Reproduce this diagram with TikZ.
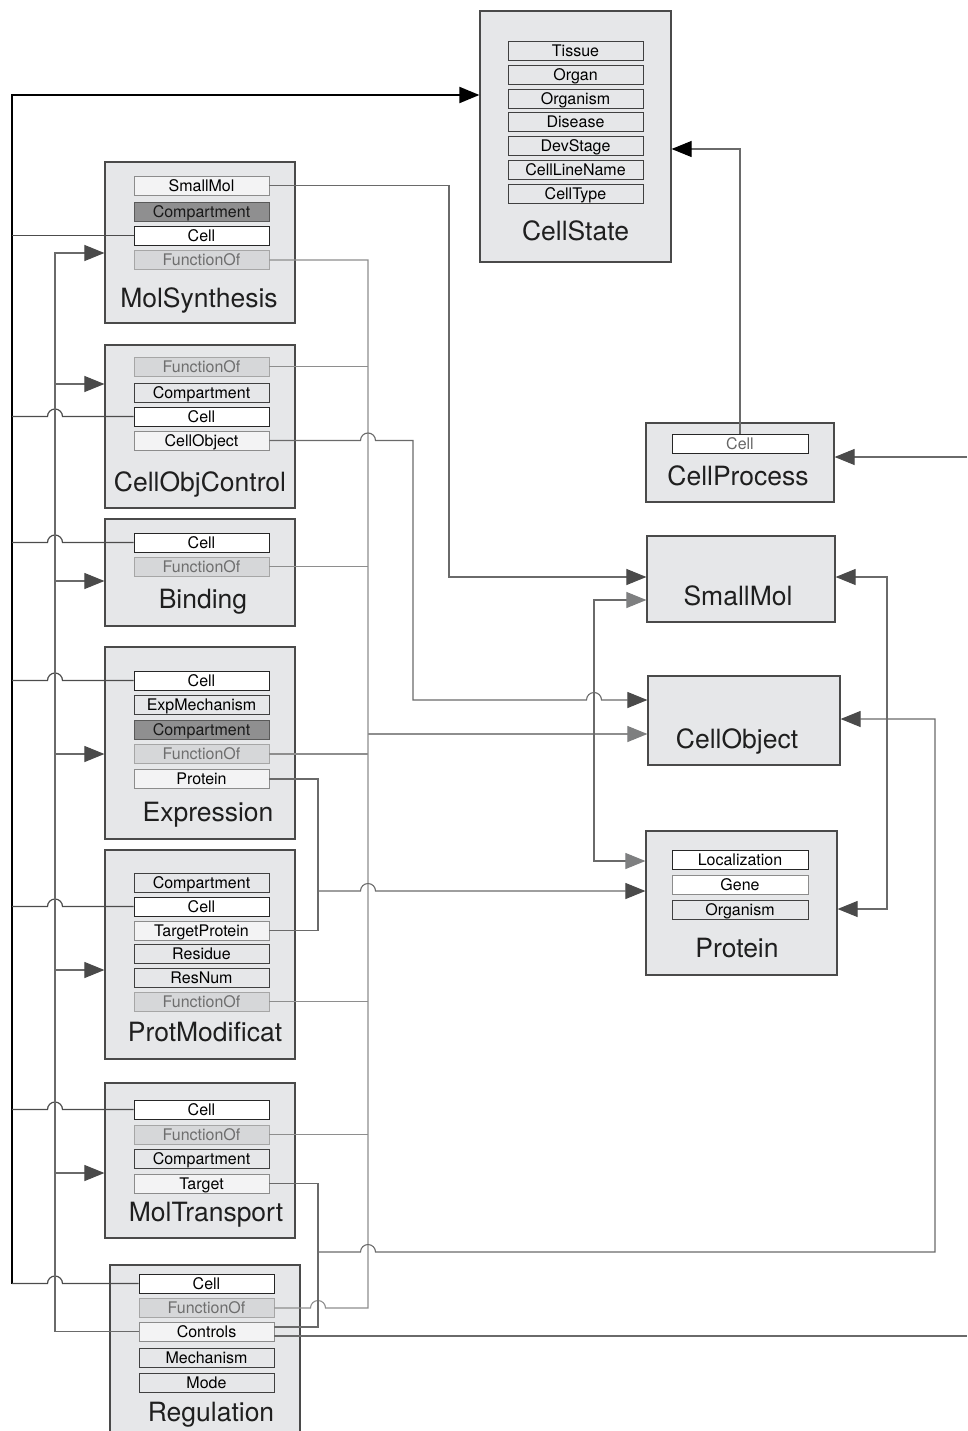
\documentclass[tikz,border=0pt]{standalone}
\usepackage{fontspec}
\setmainfont{TeX Gyre Heros}
\usetikzlibrary{arrows.meta}

\definecolor{boxfill}{HTML}{E6E7E9}
\definecolor{boxline}{HTML}{4A4A4A}
\definecolor{attrlight}{HTML}{F3F3F4}
\definecolor{attrdark}{HTML}{8F8F90}
\definecolor{fnfill}{HTML}{D6D7D9}
\definecolor{fntext}{HTML}{6E6E6E}
\definecolor{wiregray}{HTML}{6A6A6A}
\definecolor{fngray}{HTML}{8E8E8E}
\definecolor{tipdark}{HTML}{4A4A4A}
\definecolor{tiplight}{HTML}{7E7F80}

\tikzset{
  entity/.style={draw=boxline, fill=boxfill, line width=1.2pt, inner sep=0pt},
  etitle/.style={anchor=base, inner sep=0pt, font=\fontsize{26.5}{28}\selectfont, text=black!88},
  attr/.style={line width=0.9pt, minimum width=135pt, minimum height=19pt, inner sep=0pt,
    text height=11.5pt, text depth=0.4pt, font=\fontsize{16}{17}\selectfont},
  cellattr/.style={attr, fill=white, draw=black!85},
  lightattr/.style={attr, fill=attrlight, draw=black!45},
  darkattr/.style={attr, fill=attrdark, draw=black!65, text=black!90},
  fnattr/.style={attr, fill=fnfill, draw=black!35, text=fntext},
  plainattr/.style={attr, fill=boxfill, draw=black!75},
  wire/.style={draw=wiregray, line width=1.1pt},
  fnwire/.style={draw=fngray, line width=1.1pt},
  cellwire/.style={draw=black!70, line width=1.2pt},
  trunk/.style={draw=black, line width=2pt},
  darkhead/.tip={Triangle[length=20pt,width=16pt,color=tipdark]},
  lighthead/.tip={Triangle[length=20pt,width=16pt,color=tiplight]},
  blackhead/.tip={Triangle[length=20pt,width=16pt,color=black]}
}

\begin{document}
\begin{tikzpicture}[x=1pt,y=-1pt]
\useasboundingbox (0,0) rectangle (967,1431);
\clip (0,0) rectangle (967,1431);

% --- right column
\node[entity, minimum width=191, minimum height=251] (cstate) at (575.5,136.5) {};
\foreach \t [count=\i] in {Tissue,Organ,Organism,Disease,DevStage,CellLineName,CellType}
  \node[plainattr] (cstate-\i) at (575.5,{51+23.75*(\i-1)}) {\t};
\node[etitle] (cstate-t) at (575.5,240.5) {CellState};

\node[entity, minimum width=188, minimum height=79] (cproc) at (740,462.5) {};
\node[cellattr, text=black!60, minimum width=136] (cproc-cell) at (740,443.5) {Cell};
\node[etitle] (cproc-t) at (738,485) {CellProcess};

\node[entity, minimum width=188, minimum height=86] (smol) at (741,579) {};
\node[etitle] (smol-t) at (738,605) {SmallMol};

\node[entity, minimum width=192, minimum height=89] (cobj) at (744,720.5) {};
\node[etitle] (cobj-t) at (737,748) {CellObject};

\node[entity, minimum width=191, minimum height=144] (prot) at (741.5,903) {};
\node[cellattr, minimum width=136] (prot-loc) at (740,859.5) {Localization};
\node[lightattr, fill=white, minimum width=136] (prot-gene) at (740,884.5) {Gene};
\node[plainattr, minimum width=136] (prot-org) at (740,909.5) {Organism};
\node[etitle] (prot-t) at (737,957) {Protein};

% --- left column
\node[entity, minimum width=190, minimum height=161] (msyn) at (200,242.5) {};
\node[lightattr] (msyn-smol) at (201.5,185.5) {SmallMol};
\node[darkattr] (msyn-comp) at (201.5,211.5) {Compartment};
\node[cellattr] (msyn-cell) at (201.5,235.5) {Cell};
\node[fnattr] (msyn-fn) at (201.5,260) {FunctionOf};
\node[etitle] (msyn-t) at (199,307) {MolSynthesis};

\node[entity, minimum width=190, minimum height=163] (cocl) at (200,426.5) {};
\node[fnattr] (cocl-fn) at (201.5,366.5) {FunctionOf};
\node[plainattr] (cocl-comp) at (201.5,392.5) {Compartment};
\node[cellattr] (cocl-cell) at (201.5,416.5) {Cell};
\node[lightattr] (cocl-cobj) at (201.5,440.5) {CellObject};
\node[etitle] (cocl-t) at (200,491) {CellObjControl};

\node[entity, minimum width=190, minimum height=107] (bind) at (200,572.5) {};
\node[cellattr] (bind-cell) at (201.5,542.5) {Cell};
\node[fnattr] (bind-fn) at (201.5,566.5) {FunctionOf};
\node[etitle] (bind-t) at (203,608) {Binding};

\node[entity, minimum width=190, minimum height=192] (expr) at (200,743) {};
\node[cellattr] (expr-cell) at (201.5,680.5) {Cell};
\node[plainattr] (expr-mech) at (201.5,704.5) {ExpMechanism};
\node[darkattr] (expr-comp) at (201.5,729.5) {Compartment};
\node[fnattr] (expr-fn) at (201.5,754) {FunctionOf};
\node[lightattr] (expr-prot) at (201.5,779) {Protein};
\node[etitle] (expr-t) at (208,821) {Expression};

\node[entity, minimum width=190, minimum height=209] (pmod) at (200,954.5) {};
\node[plainattr] (pmod-comp) at (201.5,882.5) {Compartment};
\node[cellattr] (pmod-cell) at (201.5,906.5) {Cell};
\node[lightattr] (pmod-tprot) at (201.5,930.5) {TargetProtein};
\node[plainattr] (pmod-res) at (201.5,953.5) {Residue};
\node[plainattr] (pmod-rnum) at (201.5,977.5) {ResNum};
\node[fnattr] (pmod-fn) at (201.5,1001.5) {FunctionOf};
\node[etitle] (pmod-t) at (205,1041) {ProtModificat};

\node[entity, minimum width=190, minimum height=155] (mtra) at (200,1160.5) {};
\node[cellattr] (mtra-cell) at (201.5,1109.5) {Cell};
\node[fnattr] (mtra-fn) at (201.5,1134.5) {FunctionOf};
\node[plainattr] (mtra-comp) at (201.5,1158.5) {Compartment};
\node[lightattr] (mtra-targ) at (201.5,1183.5) {Target};
\node[etitle] (mtra-t) at (206,1221) {MolTransport};

\node[entity, minimum width=190, minimum height=195] (regu) at (205,1362.5) {};
\node[cellattr] (regu-cell) at (206.5,1283.5) {Cell};
\node[fnattr] (regu-fn) at (206.5,1308) {FunctionOf};
\node[lightattr] (regu-ctrl) at (206.5,1331.5) {Controls};
\node[plainattr] (regu-mech) at (206.5,1357.5) {Mechanism};
\node[plainattr] (regu-mode) at (206.5,1382.5) {Mode};
\node[etitle] (regu-t) at (211,1421) {Regulation};

\coordinate (rim1) at (967,457);
\coordinate (rim2) at (967,1336);

% --- Cell links into CellState
\draw[trunk, -blackhead] (12,1283.5) -- (12,95) -- (cstate.west |- 12,95);
\draw[cellwire] (msyn-cell.west) -- (msyn-cell.west -| 12,0);
\foreach \c in {cocl-cell,bind-cell,expr-cell,pmod-cell,mtra-cell,regu-cell}
  \draw[cellwire] (\c.west) -- (\c.west -| 62.5,0) arc[start angle=0,end angle=-180,radius=7.5] -- (\c.west -| 12,0);
\draw[wire, -blackhead] (cproc-cell.north) |- (cstate.east |- 738,149);

% --- Controls feeding every process
\draw[wire, -darkhead] (regu-ctrl.west) -| (55,253) -- (msyn.west |- 55,253);
\foreach \b/\y in {cocl/384,bind/581,expr/754,pmod/970,mtra/1173}
  \draw[wire, -darkhead] (55,\y) -- (\b.west |- 55,\y);

% --- FunctionOf bus
\draw[fnwire] (msyn-fn.east) -- (msyn-fn.east -| 368,0) -- (368,1308) -- (325.5,1308)
  arc[start angle=0,end angle=-180,radius=7.5] -- (regu-fn.east);
\foreach \f in {cocl-fn,bind-fn,expr-fn,pmod-fn,mtra-fn}
  \draw[fnwire] (\f.east) -- (\f.east -| 368,0);
\draw[fnwire, -lighthead] (368,734) -- (cobj.west |- 368,734);

% --- object links
\draw[wire, -darkhead] (msyn-smol.east) -| (449,577) -- (smol.west |- 449,577);
\draw[wire, -darkhead] (cocl-cobj.east) -- (360.5,440.5) arc[start angle=180,end angle=360,radius=7.5]
  -- (413,440.5) -- (413,700) -- (586.5,700) arc[start angle=180,end angle=360,radius=7.5]
  -- (cobj.west |- 413,700);
\draw[wire, lighthead-lighthead] (smol.west |- 594,600) -| (594,861) -- (prot.west |- 594,861);
\draw[wire] (expr-prot.east) -| (318,930.5) -- (pmod-tprot.east);
\draw[wire, -darkhead] (318,891) -- (360.5,891) arc[start angle=180,end angle=360,radius=7.5]
  -- (prot.west |- 318,891);
\draw[wire, darkhead-darkhead] (smol.east |- 887,577) -| (887,909) -- (prot.east |- 887,909);
\draw[wire] (mtra-targ.east) -| (318,1327) -- (regu-ctrl.east |- 318,1327);
\draw[wire, -darkhead] (318,1252) -- (360.5,1252) arc[start angle=180,end angle=360,radius=7.5]
  -- (935,1252) -- (935,719) -- (cobj.east |- 935,719);
\draw[wire, -darkhead] (rim1) -- (cproc.east |- rim1);
\draw[wire] (regu-ctrl.east |- rim2) -- (rim2);
\end{tikzpicture}
\end{document}
